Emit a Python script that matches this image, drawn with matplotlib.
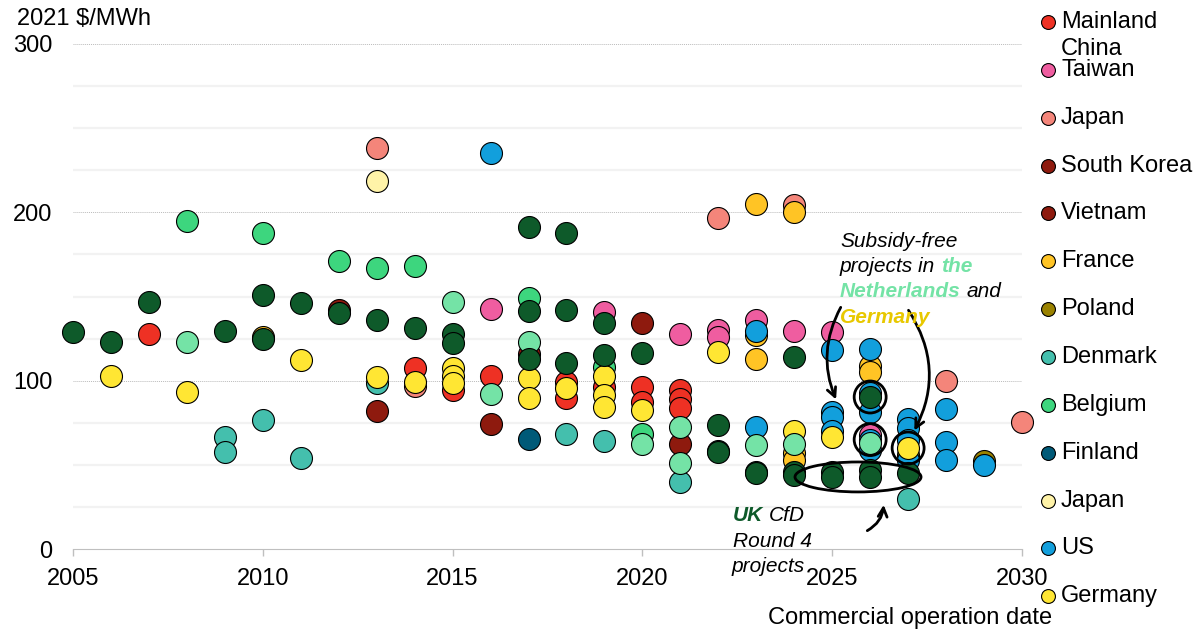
import numpy as np
import matplotlib
matplotlib.use('Agg')
import matplotlib.pyplot as plt
from matplotlib.patches import Ellipse, FancyArrowPatch
from matplotlib.lines import Line2D

plt.rcParams['font.family'] = ['Liberation Sans', 'DejaVu Sans']

# ---- data: (commercial operation year, 2021 $/MWh) per market ----
china_x = [2007, 2014, 2015, 2016, 2018, 2018, 2019, 2020, 2020, 2021, 2021, 2021]
china_y = [127.7, 107.5, 94.5, 103, 99, 89.7, 96, 96, 87.5, 94.5, 89, 83.8]

taiwan_x = [2016, 2019, 2021, 2022, 2022, 2023, 2024, 2025, 2026]
taiwan_y = [142.6, 141, 128, 130, 126, 136, 129.5, 129, 67.7]

japan_x = [2013, 2014, 2022, 2024, 2028, 2030]
japan_y = [238, 97, 196.6, 204.4, 99.8, 75.5]

korea_x = [2012, 2013, 2016]
korea_y = [142, 82, 74]

vietnam_x = [2017, 2020, 2021]
vietnam_y = [116, 134, 62.4]

france_x = [2010, 2023, 2023, 2023, 2024, 2024, 2024, 2026, 2026]
france_y = [126, 205, 127, 113, 200, 57, 53, 108.7, 105]

poland_x = [2027, 2029]
poland_y = [56, 52]

denmark_x = [2009, 2009, 2010, 2011, 2013, 2018, 2019, 2021, 2027]
denmark_y = [66.5, 57.6, 76.6, 54, 98.6, 68.3, 64, 40, 29.7]

belgium_x = [2008, 2010, 2012, 2013, 2014, 2017, 2019, 2020]
belgium_y = [195, 188, 171, 167, 168, 149, 108, 68.3]

finland_x = [2017]
finland_y = [65.5]

japan2_x = [2013]
japan2_y = [218.6]

us_x = [2016, 2023, 2023, 2025, 2025, 2025, 2025, 2026, 2026, 2026, 2026, 2026,
        2027, 2027, 2027, 2027, 2028, 2028, 2028, 2029]
us_y = [235.3, 129.5, 72.5, 118, 81.4, 78.4, 70, 119, 92.7, 81.4, 64.8, 59,
        77, 72, 65, 53, 83, 63.6, 53, 50]

germany_x = [2006, 2008, 2011, 2013, 2014, 2015, 2015, 2015, 2017, 2017, 2018,
             2019, 2019, 2019, 2020, 2022, 2024, 2025, 2027]
germany_y = [103, 93, 112, 102, 99, 107.5, 103, 98.6, 101.6, 90, 95.6,
             103, 91.5, 84.4, 82.6, 117, 70, 66.5, 60]

netherlands_x = [2008, 2015, 2016, 2017, 2020, 2021, 2021, 2023, 2024, 2026]
netherlands_y = [123, 147, 92, 123, 62.4, 72.5, 51, 62, 62.5, 63]

uk_x = [2005, 2006, 2007, 2009, 2010, 2010, 2011, 2012, 2013, 2014, 2015, 2015,
        2017, 2017, 2017, 2018, 2018, 2018, 2019, 2019, 2020, 2022, 2022, 2022,
        2023, 2023, 2024, 2024, 2024, 2025, 2025, 2026, 2026, 2026, 2027]
uk_y = [129, 123, 147, 129.5, 151, 124.8, 146, 140, 136, 131, 128, 122.5,
        191, 141.5, 113, 188, 142, 110.5, 134, 115.5, 116.5, 73.7, 58.5, 57.8,
        46, 45, 114, 46, 44, 46, 43, 90.3, 47, 43, 45]

# highlighted projects (rings) and the UK CfD round 4 cluster
ring_x = [2026, 2026, 2027]
ring_y = [90.3, 65, 60]

series = [
    ('Mainland\nChina', '#EE3124', china_x, china_y),
    ('Taiwan', '#EF5DA0', taiwan_x, taiwan_y),
    ('Japan', '#F4857A', japan_x, japan_y),
    ('South Korea', '#8E1A0E', korea_x, korea_y),
    ('Vietnam', '#8E1A0E', vietnam_x, vietnam_y),
    ('France', '#FFC425', france_x, france_y),
    ('Poland', '#9A8200', poland_x, poland_y),
    ('Denmark', '#44BFAD', denmark_x, denmark_y),
    ('Belgium', '#3DD67E', belgium_x, belgium_y),
    ('Finland', '#005A78', finland_x, finland_y),
    ('Japan', '#FFF3A8', japan2_x, japan2_y),
    ('US', '#129FDC', us_x, us_y),
    ('Germany', '#FFE633', germany_x, germany_y),
    (None, '#74E3A6', netherlands_x, netherlands_y),
    (None, '#0E5A2A', uk_x, uk_y),
]

W, H = 1197, 629
fig = plt.figure(figsize=(W / 100, H / 100), dpi=100)
ax = fig.add_axes([73 / W, 1 - 549 / H, (1022 - 73) / W, (549 - 44) / H])

for k, (name, col, xs, ys) in enumerate(series):
    ax.scatter(xs, ys, s=250, c=col, edgecolors='black', linewidths=0.8,
               zorder=3 + k * 0.01, clip_on=False)

ax.set_xlim(2005, 2030)
ax.set_ylim(0, 300)
ax.set_xticks(range(2005, 2031, 5))
ax.set_yticks([0, 100, 200, 300])
ax.set_yticks([25, 50, 75, 125, 150, 175, 225, 250, 275], minor=True)
ax.grid(axis='y', which='minor', color='#F2F2F2', linewidth=1.6)
ax.grid(axis='y', which='major', color='#BBBBBB', linestyle=(0, (1, 1)), linewidth=0.7)
ax.set_axisbelow(True)
ax.tick_params(axis='y', which='both', length=0, pad=15, labelsize=17)
ax.tick_params(axis='x', length=5, color='#BFBFBF', width=1, labelsize=17, pad=9)
for side in ['left', 'top', 'right']:
    ax.spines[side].set_visible(False)
ax.spines['bottom'].set_color('#BFBFBF')

fig.text(17 / W, 1 - 19 / H, '2021 $/MWh', fontsize=17, va='center', ha='left')
fig.text(1052 / W, 1 - 618 / H, 'Commercial operation date', fontsize=17, va='center', ha='right')

# ---- annotations ----
ax.scatter(ring_x, ring_y, s=530, facecolors='none', edgecolors='black',
           linewidths=2, zorder=6, clip_on=False)
ax.add_patch(Ellipse((2025.68, 42.8), 3.32, 17.8, fill=False, lw=2, ec='black',
                     zorder=6, clip_on=False))

arrow_kw = dict(arrowstyle='->', mutation_scale=16, lw=2, color='black', zorder=7, clip_on=False)
ax.add_patch(FancyArrowPatch((2025.26, 145), (2025.13, 87.3),
                             connectionstyle='arc3,rad=0.25', **arrow_kw))
ax.add_patch(FancyArrowPatch((2026.97, 143.2), (2027.13, 68.9),
                             connectionstyle='arc3,rad=-0.3', **arrow_kw))
ax.add_patch(FancyArrowPatch((2025.86, 10.1), (2026.36, 27.9),
                             connectionstyle='arc3,rad=0.3', **arrow_kw))

renderer = fig.canvas.get_renderer()
tmp1 = fig.text(0, 0, 'a a', fontsize=15, style='italic')
tmp2 = fig.text(0, 0, 'aa', fontsize=15, style='italic')
space_w = tmp1.get_window_extent(renderer).width - tmp2.get_window_extent(renderer).width
tmp1.remove()
tmp2.remove()


def rich(x, y, parts, size=15):
    for s, col, wt in parts:
        t = fig.text(x / W, 1 - y / H, s, color=col, weight=wt, style='italic',
                     fontsize=size, va='baseline', ha='left')
        x += t.get_window_extent(renderer).width + space_w


nl_col, de_col, uk_col = '#74E3A6', '#E8C800', '#0E5A2A'
rich(840, 247, [('Subsidy-free', 'black', 'normal')])
rich(840, 272, [('projects in', 'black', 'normal'), ('the', nl_col, 'bold')])
rich(840, 297, [('Netherlands', nl_col, 'bold'), ('and', 'black', 'normal')])
rich(840, 323, [('Germany', de_col, 'bold')])

rich(733, 521, [('UK', uk_col, 'bold'), ('CfD', 'black', 'normal')])
rich(733, 547, [('Round 4', 'black', 'normal')])
rich(732, 572, [('projects', 'black', 'normal')])

# ---- legend (fixed spacing, as in the source) ----
for i, (name, col, xs, ys) in enumerate(series):
    if name is None:
        continue
    yc = 22 + i * 47.85
    fig.add_artist(Line2D([1048 / W], [1 - yc / H], marker='o', markersize=10,
                          markerfacecolor=col, markeredgecolor='black',
                          markeredgewidth=0.8, linestyle='none',
                          transform=fig.transFigure))
    for j, line in enumerate(name.split('\n')):
        fig.text(1061 / W, 1 - (yc + j * 27) / H, line, fontsize=17,
                 va='center', ha='left')

fig.savefig('out.png', dpi=100)
